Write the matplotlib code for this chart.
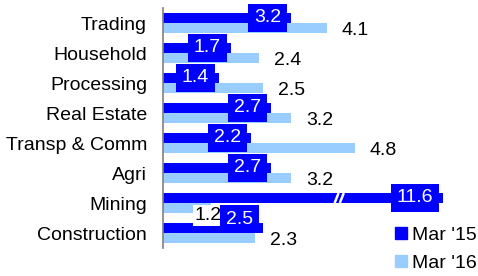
import numpy as np
import matplotlib.pyplot as plt
from matplotlib.patches import Patch

categories = ["Trading", "Household", "Processing", "Real Estate",
              "Transp & Comm", "Agri", "Mining", "Construction"]
mar15 = [3.2, 1.7, 1.4, 2.7, 2.2, 2.7, 11.6, 2.5]
mar16 = [4.1, 2.4, 2.5, 3.2, 4.8, 3.2, 1.2, 2.3]
series = ["Mar '15", "Mar '16"]

dark = '#0000ff'
light = '#99ccff'
break_at = 7.0  # longer bars are drawn cut with a break mark

plt.rcParams['font.family'] = ['Liberation Sans', 'DejaVu Sans']
fs = 14

fig = plt.figure(figsize=(4.78, 2.76), dpi=100)
ax = fig.add_axes([163/478, 28/276, 315/478, 240/276])

y = np.arange(len(categories))
h = 1/3
shown15 = [min(v, break_at) for v in mar15]
ax.barh(y - h/2, shown15, height=h, color=dark)
ax.barh(y + h/2, mar16, height=h, color=light)

ax.set_xlim(0, 315/40)
ax.set_ylim(len(categories) - 0.5, -0.5)

# hand-moved labels in the original
shift15 = {"Construction": (0, 9)}
shift16 = {"Mining": (-31, -5)}

for i, cat in enumerate(categories):
    dx, dy = shift15.get(cat, (0, 0))
    ax.annotate(f"{mar15[i]:.1f}", (shown15[i], y[i] - h/2),
                xytext=(-10 + dx, dy), textcoords='offset pixels',
                ha='right', va='center', color='white', fontsize=fs,
                bbox=dict(boxstyle='square,pad=0.3', fc=dark, ec='none'))
    dx, dy = shift16.get(cat, (0, 0))
    ax.annotate(f"{mar16[i]:.1f}", (mar16[i], y[i] + h/2),
                xytext=(15 + dx, -2.5 + dy), textcoords='offset pixels',
                ha='left', va='center', color='black', fontsize=fs,
                bbox=dict(boxstyle='square,pad=0.1', fc='white', ec='none'))
    if mar15[i] > break_at:
        xb = break_at * 0.62
        for x0 in (xb, xb + 0.13):
            ax.plot([x0 - 0.05, x0 + 0.05], [y[i], y[i] - h],
                    color='white', lw=1.8, solid_capstyle='butt')

ax.set_yticks(y, categories, fontsize=fs)
ax.set_xticks([])
ax.tick_params(axis='y', length=0, pad=11.5)
for s in ['top', 'right', 'bottom']:
    ax.spines[s].set_visible(False)
ax.spines['left'].set_color('#808080')
ax.spines['left'].set_linewidth(1.2)

handles = [Patch(color=dark), Patch(color=light)]
fig.legend(handles, series, loc='upper left',
           bbox_to_anchor=(395/478, 1 - 227/276), frameon=False,
           fontsize=fs, handlelength=0.6, handleheight=0.6,
           handletextpad=0.25, labelspacing=0.55, borderpad=0,
           borderaxespad=0)

fig.savefig('out.png', dpi=100)
